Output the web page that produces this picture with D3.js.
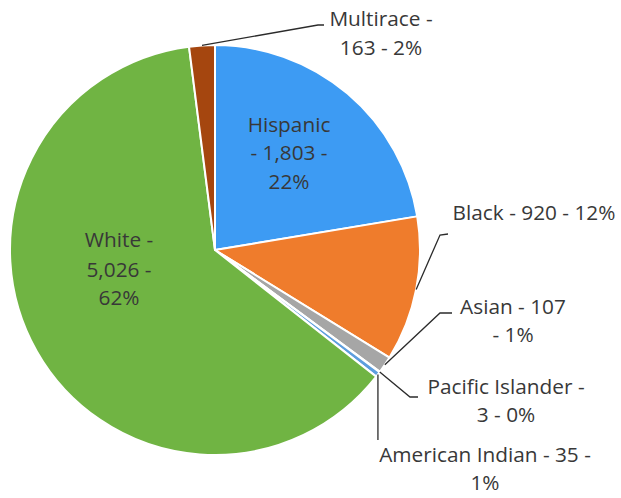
<!DOCTYPE html>
<html>
<head>
<meta charset="utf-8">
<script src="https://cdn.jsdelivr.net/npm/d3@7/dist/d3.min.js"></script>
<style>
  html, body { margin: 0; padding: 0; background: #ffffff; }
  svg { display: block; }
  text { font-family: "Open Sans", "Noto Sans", sans-serif; fill: #383838; }
</style>
</head>
<body>
<svg id="chart" width="621" height="498"></svg>
<script>
// Population by group, clockwise from 12 o'clock
const categories = ["Hispanic", "Black", "Asian", "Pacific Islander", "American Indian", "White", "Multirace"];
const values = [1803, 920, 107, 3, 35, 5026, 163];
const percentLabels = ["22%", "12%", "1%", "0%", "1%", "62%", "2%"];
const colors = ["#3d9bf3", "#ef7c2c", "#a6a6a6", "#f2b800", "#5d9ede", "#70b443", "#a5460f"];

const W = 621, H = 498;
const cx = 215, cy = 250, R = 205;
const fontSize = 20.8;

const svg = d3.select("#chart");
const g = svg.append("g").attr("transform", `translate(${cx},${cy})`);

const data = categories.map((c, i) => ({ name: c, value: values[i], pct: percentLabels[i], color: colors[i] }));

const pie = d3.pie().value(d => d.value).sort(null).startAngle(0).endAngle(2 * Math.PI);
const arcs = pie(data);
const arc = d3.arc().innerRadius(0).outerRadius(R);

g.selectAll("path.slice")
  .data(arcs)
  .join("path")
  .attr("class", "slice")
  .attr("d", arc)
  .attr("fill", d => d.data.color)
  .attr("stroke", "#ffffff")
  .attr("stroke-width", 2)
  .attr("stroke-linejoin", "round");

const fmt = d3.format(",");

// Label text lines and placement (absolute page coordinates, centre x and baselines)
const labelLayout = {
  "Hispanic":         { x: 289, y: [132, 160, 189], lines: d => [d.name, "- " + fmt(d.value) + " -", d.pct] },
  "Black":            { x: 534, y: [220],           lines: d => [d.name + " - " + fmt(d.value) + " - " + d.pct] },
  "Asian":            { x: 513, y: [314, 342],      lines: d => [d.name + " - " + fmt(d.value), "- " + d.pct] },
  "Pacific Islander": { x: 506, y: [394, 422],      lines: d => [d.name + " -", fmt(d.value) + " - " + d.pct] },
  "American Indian":  { x: 485, y: [462, 490],      lines: d => [d.name + "  - " + fmt(d.value) + " -", d.pct] },
  "White":            { x: 119, y: [247, 277, 305], lines: d => [d.name + " -", fmt(d.value) + " -", d.pct] },
  "Multirace":        { x: 381, y: [26, 55],        lines: d => [d.name + " -", fmt(d.value) + " - " + d.pct] }
};

// Leader line bends (page coordinates) for labels placed outside the pie
const leaderBends = {
  "Multirace":        [[318, 25], [324, 25]],
  "Black":            [[440, 235], [448, 234]],
  "Asian":            [[440, 313], [452, 313]],
  "Pacific Islander": [[410, 397], [418, 397]],
  "American Indian":  "vertical"
};

function edgePoint(d) {
  const a = (d.startAngle + d.endAngle) / 2;
  return [cx + R * Math.sin(a), cy - R * Math.cos(a)];
}

const lineGen = d3.line();
arcs.forEach(d => {
  const bend = leaderBends[d.data.name];
  if (!bend) return;
  const p = edgePoint(d);
  let pts;
  if (bend === "vertical") pts = [p, [p[0], 440]];
  else pts = [p, ...bend];
  svg.append("path")
    .attr("d", lineGen(pts))
    .attr("fill", "none")
    .attr("stroke", "#2b2b2b")
    .attr("stroke-width", 1.3);
});

arcs.forEach(d => {
  const L = labelLayout[d.data.name];
  const lines = L.lines(d.data);
  const t = svg.append("text")
    .attr("text-anchor", "middle")
    .attr("font-size", fontSize);
  lines.forEach((s, i) => {
    t.append("tspan").attr("x", L.x).attr("y", L.y[i]).text(s);
  });
});
</script>
</body>
</html>
